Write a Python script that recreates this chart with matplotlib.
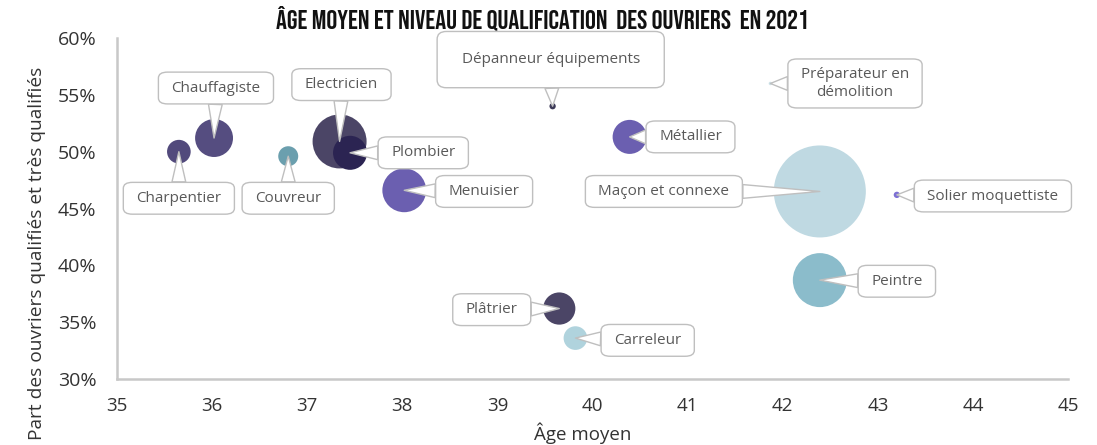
import matplotlib.pyplot as plt
from matplotlib.ticker import FuncFormatter

# metiers, age moyen, part de qualifies (%), effectif (milliers, approx.)
metiers = ["Charpentier", "Chauffagiste", "Couvreur", "Electricien", "Plombier",
           "Menuisier", "Dépanneur équipements", "Préparateur en\ndémolition",
           "Métallier", "Maçon et connexe", "Solier moquettiste", "Peintre",
           "Plâtrier", "Carreleur"]
age = [35.65, 36.02, 36.80, 37.34, 37.45, 38.02, 39.58, 41.87,
       40.39, 42.39, 43.20, 42.39, 39.65, 39.82]
qualif = [50.0, 51.2, 49.6, 50.9, 49.9, 46.6, 54.0, 56.0,
          51.3, 46.5, 46.2, 38.7, 36.2, 33.6]
effectif = [14, 36, 10, 73, 29, 48, 1, 0.3, 29, 212, 1, 73, 26, 14]
couleurs = ["#524a7c", "#554d80", "#6b9fae", "#4b4566", "#2b2452",
            "#6b5fb0", "#3d3a58", "#cfe4eb", "#6b5fb0", "#bfd9e2",
            "#7d70d4", "#8bbccb", "#4b4566", "#b0d3dd"]

# where each callout box sits (data coords) + box padding (x, y) in em
label_pos = [(35.65, 45.9), (36.04, 55.6), (36.80, 45.9), (37.36, 55.9),
             (38.22, 49.9), (38.86, 46.5), (39.56, 58.1), (42.76, 56.0),
             (41.03, 51.3), (40.75, 46.5), (44.21, 46.1), (43.20, 38.6),
             (38.94, 36.1), (40.58, 33.4)]
label_pad = [(0.85, 0.55)] * len(metiers)
label_pad[6] = (1.6, 1.35)

plt.rcParams['font.family'] = ['Open Sans', 'DejaVu Sans']

fig = plt.figure(figsize=(10.97, 4.45), dpi=100)
ax = fig.add_axes([0.1067, 0.1483, 0.8669, 0.7663])

ax.scatter(age, qualif, s=[20.7 * e for e in effectif], c=couleurs,
           linewidths=0, zorder=2)

for i, m in enumerate(metiers):
    px, py = label_pad[i]
    ax.annotate(m, xy=(age[i], qualif[i]), xytext=label_pos[i],
                ha="center", va="center", fontsize=11, color="#595959",
                bbox=dict(boxstyle="round,pad=%.2f,rounding_size=0.6" % px,
                          mutation_aspect=py / px,
                          fc="white", ec="#bfbfbf", lw=1),
                arrowprops=dict(arrowstyle="wedge,tail_width=0.9,shrink_factor=0.5",
                                fc="white", ec="#bfbfbf", lw=1,
                                shrinkA=0, shrinkB=0),
                zorder=3)

ax.set_xlim(35, 45)
ax.set_ylim(30, 60)
ax.set_xticks(range(35, 46))
ax.set_yticks(range(30, 61, 5))
ax.yaxis.set_major_formatter(FuncFormatter(lambda v, p: "%d%%" % v))
ax.tick_params(axis="y", length=0, labelsize=14, colors="#333333", pad=15)
ax.tick_params(axis="x", length=0, labelsize=13.5, colors="#333333", pad=13)

for s in ["top", "right"]:
    ax.spines[s].set_visible(False)
for s in ["left", "bottom"]:
    ax.spines[s].set_color("#c8c8c8")
    ax.spines[s].set_linewidth(1.8)

ax.set_xlabel("Âge moyen", fontsize=13.5, color="#333333")
ax.set_ylabel("Part des ouvriers qualifiés et très qualifiés", fontsize=13.8,
              color="#333333")
ax.xaxis.set_label_coords(0.49, -0.158)
ax.yaxis.set_label_coords(-0.084, 0.367)
ax.xaxis.label.set_va("center")
ax.yaxis.label.set_va("center")

fig.text(0.494, 0.96, "ÂGE MOYEN ET NIVEAU DE QUALIFICATION  DES OUVRIERS  EN 2021",
         ha="center", va="center", fontsize=19.5,
         family=['Bebas Neue', 'Oswald', 'Anton', 'DejaVu Sans'], color="#111111")

fig.savefig("out.png", dpi=100)
